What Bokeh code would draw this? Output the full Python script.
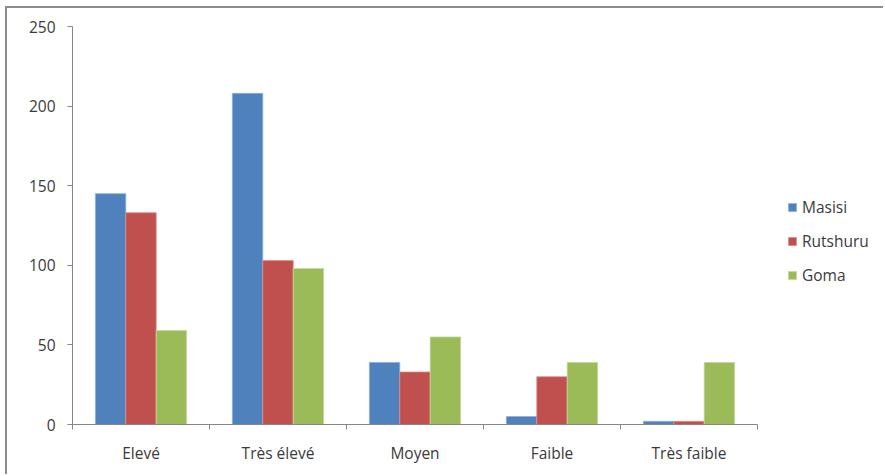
from bokeh.plotting import figure
from bokeh.models import (Range1d, LinearAxis, FixedTicker, Legend, LegendItem,
                          ColumnDataSource)
from bokeh.transform import dodge
from bokeh.embed import file_html
from bokeh.resources import INLINE

# Data
categories = ["Elevé", "Très élevé", "Moyen", "Faible", "Très faible"]
series = ["Masisi", "Rutshuru", "Goma"]
masisi = [145, 208, 39, 5, 2]
rutshuru = [133, 103, 33, 30, 2]
goma = [59, 98, 55, 39, 39]
y_ticks = [0, 50, 100, 150, 200, 250]

colors = ["#4F81BD", "#C0504D", "#9BBB59"]
edge_colors = ["#8DB0DC", "#DB8E8C", "#C2D89C"]
axis_gray = "#868686"
text_color = "#3a3a3a"
font = "Open Sans"
font_size = "15.5px"

# Layout (pixels): the frame runs to the right edge so the legend can sit
# inside it; the bar area itself covers only the first bar_area_px pixels.
plot_w, plot_h = 878, 468
left_px, top_px, bottom_px = 65, 18, 52
bar_area_px = 685
frame_px = plot_w - left_px
n = len(categories)
x_end = n * frame_px / bar_area_px

# Each category occupies one unit slot on the x scale; bars sit at the slot centre
centres = [i + 0.5 for i in range(n)]
source = ColumnDataSource(dict(x=centres, cat=categories, Masisi=masisi,
                               Rutshuru=rutshuru, Goma=goma))

p = figure(width=plot_w, height=plot_h,
           x_range=Range1d(0, x_end),
           y_range=Range1d(0, 250),
           x_axis_type=None,
           output_backend="svg", toolbar_location=None)
p.margin = (6, 0, 0, 5)
p.styles = {"border-top": "2px solid #8c8c8c", "border-left": "2px solid #8c8c8c"}

p.min_border_left = left_px
p.min_border_top = top_px
p.min_border_right = 0
p.min_border_bottom = bottom_px
p.outline_line_color = None
p.grid.visible = False
p.background_fill_color = "white"
p.border_fill_color = "white"

# Bars, dodged within each category, with a thin light edge
bar_w = 0.222
offsets = [-bar_w, 0.0, bar_w]
renderers = []
for name, color, edge, off in zip(series, colors, edge_colors, offsets):
    r = p.vbar(x=dodge("x", off), top=name, width=bar_w,
               source=source, fill_color=color,
               line_color=edge, line_width=1, line_alpha=0.8)
    renderers.append(r)

# Y axis
yax = p.yaxis[0]
yax.ticker = FixedTicker(ticks=y_ticks)
yax.major_tick_in = 0
yax.major_tick_out = 5
yax.minor_tick_line_color = None
yax.axis_line_color = axis_gray
yax.major_tick_line_color = axis_gray
yax.major_label_text_font = font
yax.major_label_text_font_size = font_size
yax.major_label_text_color = text_color
yax.major_label_standoff = 12

# X axis: tick marks at category boundaries ...
tick_axis = LinearAxis(ticker=FixedTicker(ticks=list(range(n + 1))),
                       bounds=(0, n),
                       major_tick_in=0, major_tick_out=5,
                       minor_tick_line_color=None,
                       axis_line_color=axis_gray,
                       major_tick_line_color=axis_gray,
                       major_label_text_color=None,
                       major_label_text_font_size="1px",
                       major_label_standoff=0)
p.add_layout(tick_axis, "below")

# ... and category names at the slot centres
label_axis = LinearAxis(ticker=FixedTicker(ticks=centres),
                        bounds=(0, n),
                        major_label_overrides={c: name for c, name in zip(centres, categories)},
                        axis_line_color=None, major_tick_line_color=None,
                        minor_tick_line_color=None,
                        major_label_text_font=font,
                        major_label_text_font_size=font_size,
                        major_label_text_color=text_color,
                        major_label_standoff=6)
p.add_layout(label_axis, "below")

legend = Legend(items=[LegendItem(label=s, renderers=[r]) for s, r in zip(series, renderers)],
                location=(715, 138),
                glyph_width=10, glyph_height=10,
                label_height=20, spacing=12, padding=0, margin=0,
                label_standoff=5,
                label_text_font=font, label_text_font_size=font_size,
                label_text_color=text_color,
                border_line_color=None, background_fill_alpha=0)
p.add_layout(legend, "center")

open("out.html", "w").write(file_html(p, INLINE))
